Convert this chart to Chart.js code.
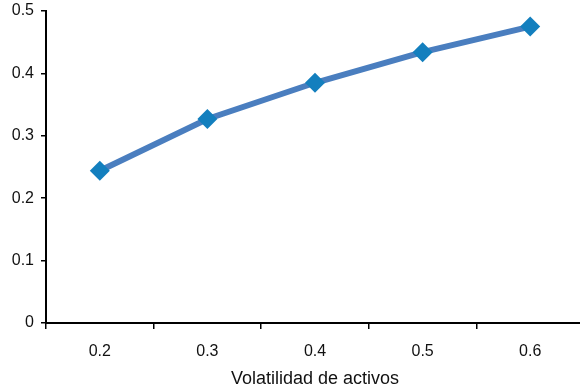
<!DOCTYPE html>
<html>
<head>
<meta charset="utf-8">
<script src="https://cdn.jsdelivr.net/npm/chart.js@4"></script>
<style>
  html, body { margin: 0; padding: 0; background: #fff; overflow: hidden; }
  #wrap { width: 594px; height: 391px; position: relative; }
</style>
</head>
<body>
<div id="wrap"><canvas id="c"></canvas></div>
<script>
const categories = ['0.2', '0.3', '0.4', '0.5', '0.6'];
const values = [0.244, 0.327, 0.385, 0.434, 0.475];
const yTicks = [0, 0.1, 0.2, 0.3, 0.4, 0.5];
const xTitle = 'Volatilidad de activos';

const font = { family: '"Liberation Sans", Arial, sans-serif', size: 16 };

new Chart(document.getElementById('c'), {
  type: 'line',
  data: {
    labels: categories,
    datasets: [{
      data: values,
      borderColor: '#4a7ebf',
      borderWidth: 6,
      pointStyle: 'rectRot',
      pointRadius: 10,
      pointBackgroundColor: '#137fbe',
      pointBorderColor: '#137fbe',
      pointBorderWidth: 0,
      tension: 0
    }]
  },
  options: {
    responsive: true,
    maintainAspectRatio: false,
    animation: false,
    layout: { padding: { top: 11, right: 0, left: 0, bottom: 0 } },
    plugins: { legend: { display: false }, tooltip: { enabled: false } },
    scales: {
      x: {
        offset: true,
        grid: { offset: true, drawOnChartArea: false, drawTicks: true, tickLength: 6, color: '#000', lineWidth: 1.5 },
        border: { color: '#000', width: 2 },
        ticks: { color: '#111', font: font, padding: 13, maxRotation: 0 },
        title: { display: true, text: xTitle, color: '#111', font: { family: font.family, size: 18 }, padding: { top: 0, bottom: 1 } },
        afterFit: s => { s.height = 68; }
      },
      y: {
        min: 0,
        max: 0.5,
        afterBuildTicks: s => { s.ticks = yTicks.map(v => ({ value: v })); },
        grid: { drawOnChartArea: false, drawTicks: true, tickLength: 5, color: '#000', lineWidth: 1.5 },
        border: { color: '#000', width: 2 },
        ticks: { color: '#111', font: font, padding: 7, callback: v => String(v) },
        afterFit: s => { s.width = 46; s.paddingTop = 0; s.paddingBottom = 0; }
      }
    }
  }
});
</script>
</body>
</html>
